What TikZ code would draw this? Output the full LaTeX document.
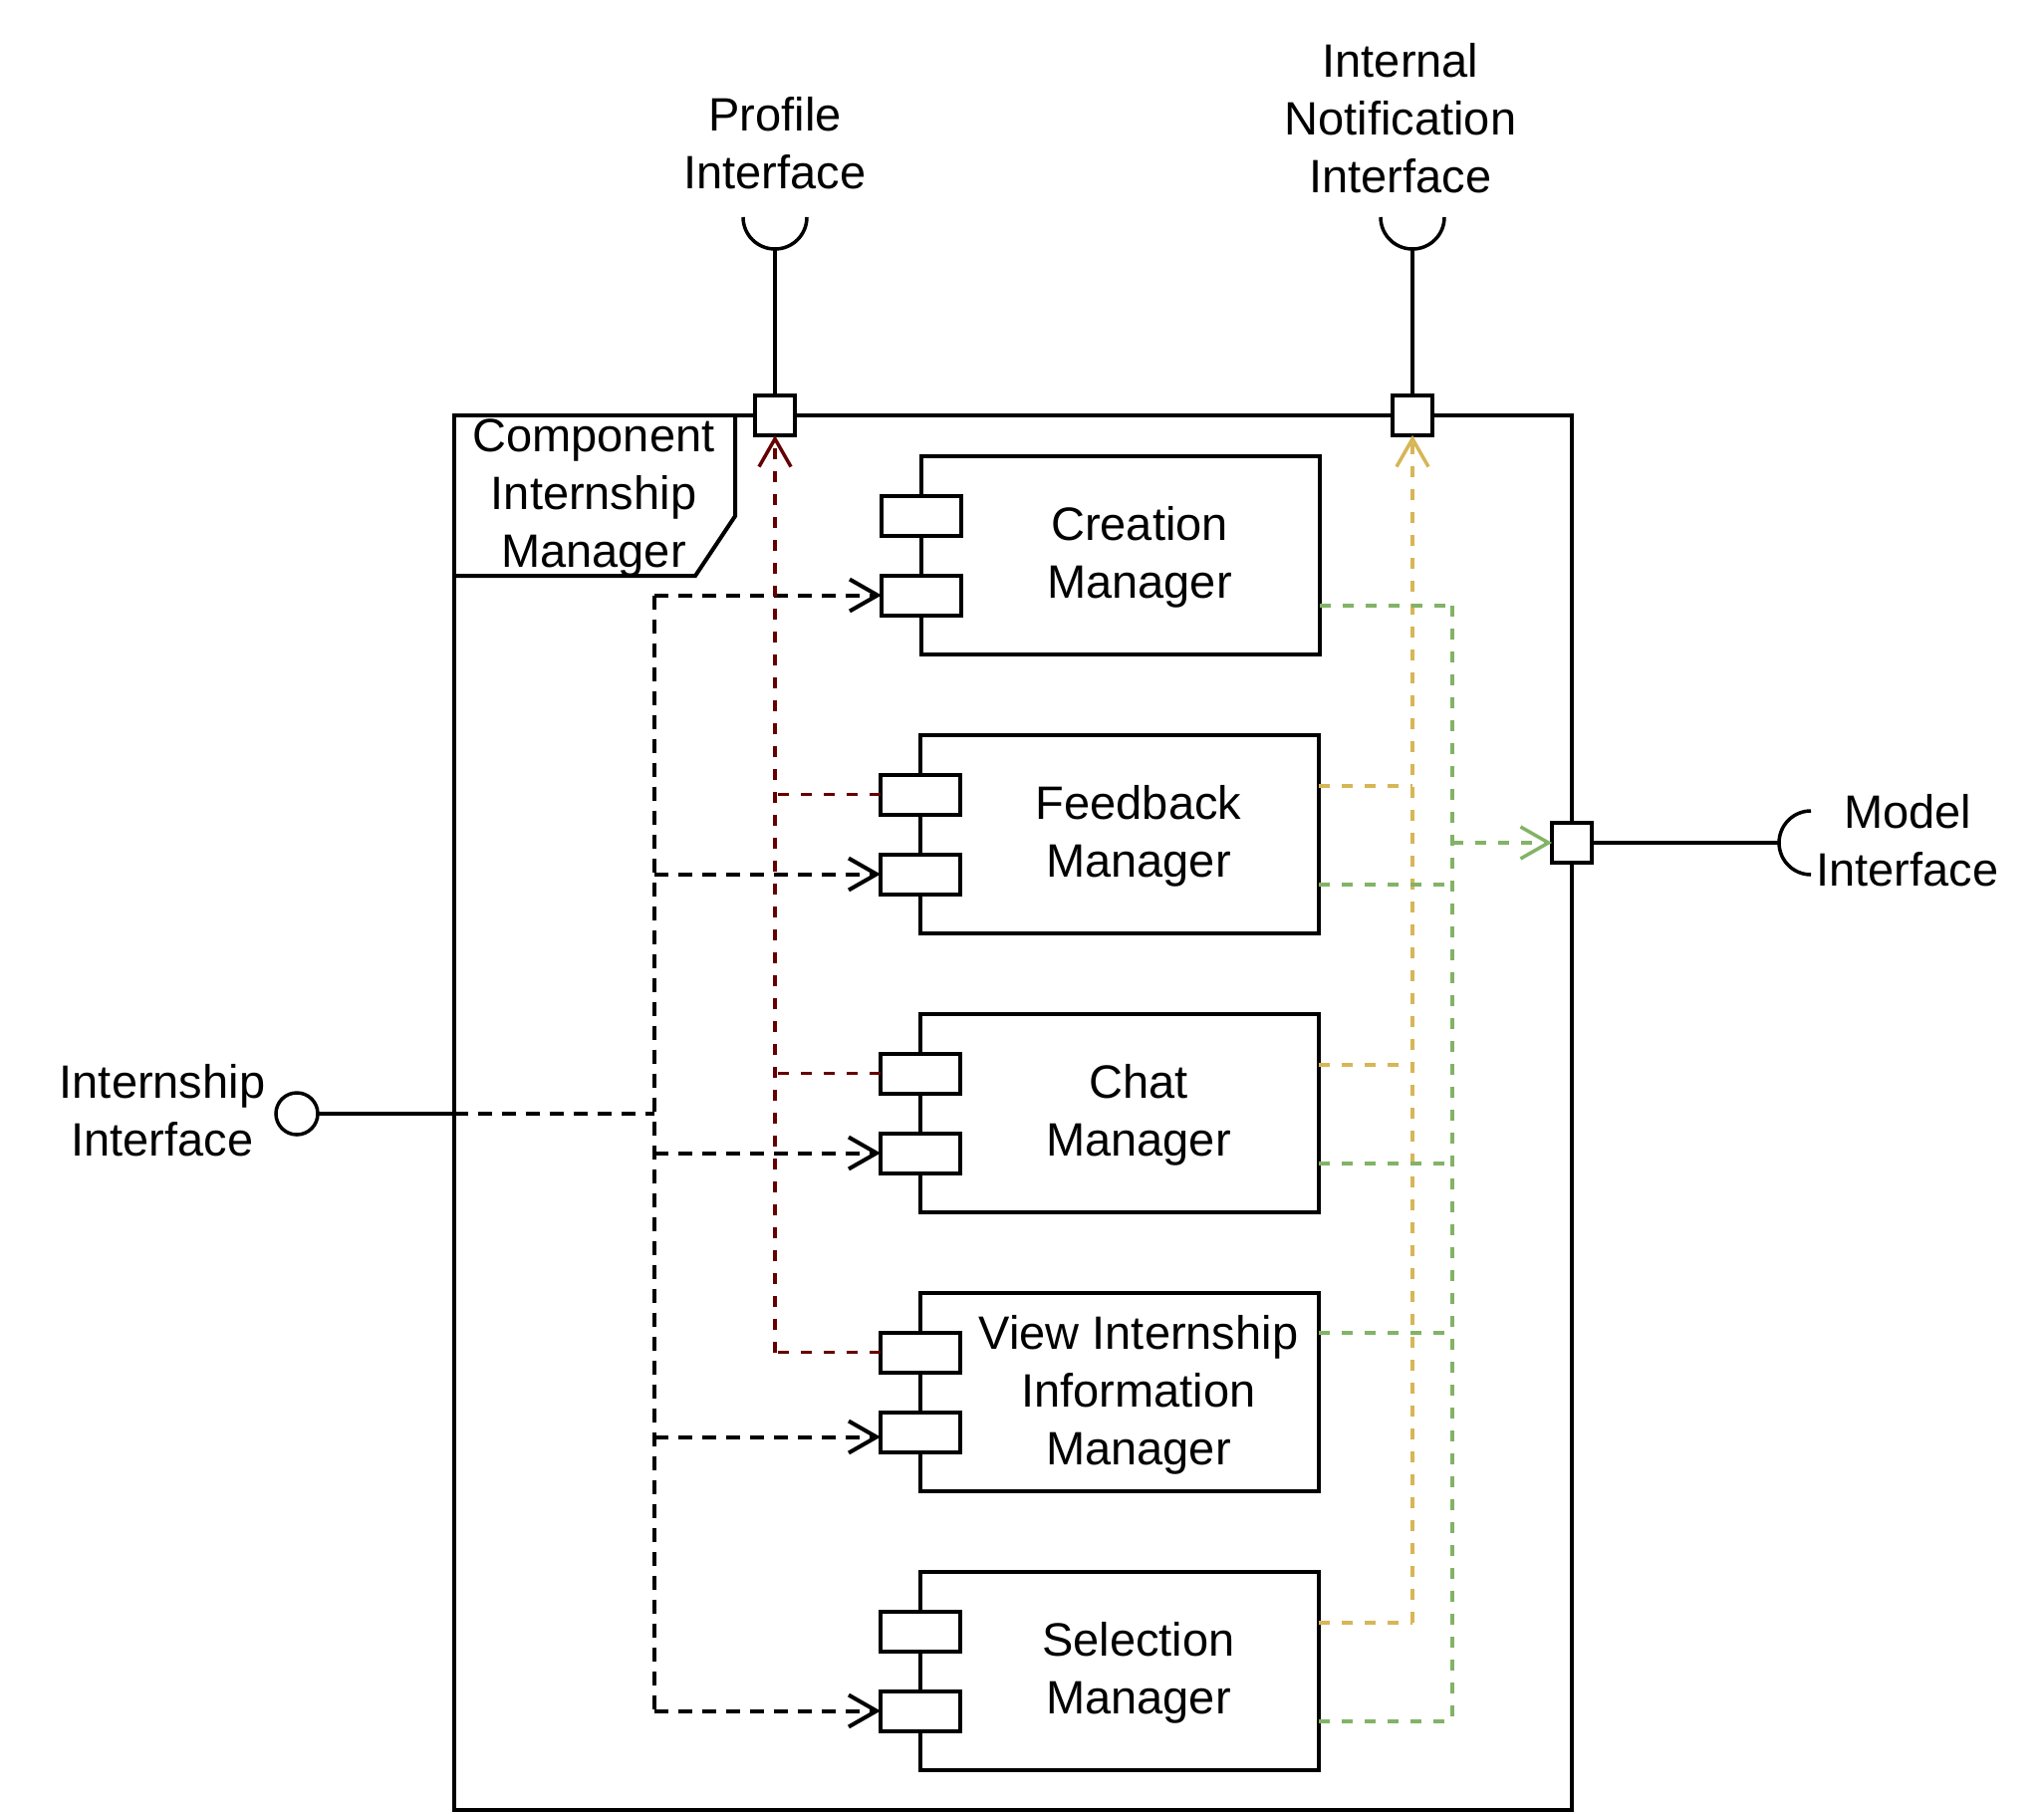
\documentclass[tikz,border=0pt]{standalone}
\usepackage{fontspec}
\setmainfont{Liberation Sans}
\usetikzlibrary{arrows.meta,positioning}
\definecolor{profred}{HTML}{660000}
\definecolor{notifyellow}{HTML}{D6B656}
\definecolor{modelgreen}{HTML}{82B366}

\begin{document}
\begin{tikzpicture}[x=1pt,y=-1pt,font=\fontsize{47}{58}\selectfont]
\useasboundingbox (0,0) rectangle (2052,1820);
\begin{scope}
\tikzstyle{comp}=[draw,fill=white,rectangle,minimum width=400pt,minimum height=199pt,line width=4pt,outer sep=0pt,node distance=81pt]
\tikzstyle{tag}=[draw,fill=white,rectangle,minimum width=80pt,minimum height=40pt,line width=4pt,outer sep=0pt]
\tikzstyle{port}=[draw,fill=white,rectangle,minimum size=40pt,line width=4pt,outer sep=0pt]
\tikzstyle{txt}=[align=center,inner sep=0pt]
\tikzstyle{wire}=[line width=3.5pt]
\tikzstyle{calls}=[line width=4pt,dash pattern=on 14pt off 10pt]
\tikzstyle{profile}=[profred,line width=3.5pt,dash pattern=on 11pt off 12pt]
\tikzstyle{notify}=[notifyellow,line width=3.5pt,dash pattern=on 11pt off 12pt]
\tikzstyle{model}=[modelgreen,line width=3.5pt,dash pattern=on 11pt off 12pt]
\tikzstyle{opentip}=[-{Straight Barb[length=28pt,width=32pt]}]

% outer component with its name tab
\node[comp,minimum width=1122pt,minimum height=1400pt] (cim) at (1017,1117) {};
\draw[line width=4pt] ([xshift=282pt]cim.north west) -- ++(0,101) -- ++(-40,60) -- ([yshift=-161pt]cim.north west);
\node[txt] (cimt) at ([xshift=140pt,yshift=-83pt]cim.north west) {Component\\Internship\\Manager};

% inner components
\node[comp] (cm) at (1125,557.5) {};
\node[comp] (fm) [below=of cm,xshift=-1pt] {};
\node[comp] (chm) [below=of fm] {};
\node[comp] (vm) [below=of chm] {};
\node[comp] (sm) [below=of vm] {};
\node[txt] (cmt) at ([xshift=19pt,yshift=-2pt]cm.center) {Creation\\Manager};
\node[txt] (fmt) at ([xshift=19pt,yshift=-2pt]fm.center) {Feedback\\Manager};
\node[txt] (chmt) at ([xshift=19pt,yshift=-2pt]chm.center) {Chat\\Manager};
\node[txt] (vmt) at ([xshift=19pt,yshift=-3pt]vm.center) {View Internship\\Information\\Manager};
\node[txt] (smt) at ([xshift=19pt,yshift=-2pt]sm.center) {Selection\\Manager};

\node[tag] (cmu) at ([yshift=40pt]cm.west) {};
\node[tag] (cml) at ([yshift=-40pt]cm.west) {};
\node[tag] (fmu) at ([yshift=40pt]fm.west) {};
\node[tag] (fml) at ([yshift=-40pt]fm.west) {};
\node[tag] (chu) at ([yshift=40pt]chm.west) {};
\node[tag] (chl) at ([yshift=-40pt]chm.west) {};
\node[tag] (vmu) at ([yshift=40pt]vm.west) {};
\node[tag] (vml) at ([yshift=-40pt]vm.west) {};
\node[tag] (smu) at ([yshift=40pt]sm.west) {};
\node[tag] (sml) at ([yshift=-40pt]sm.west) {};

% provided interface
\node[draw,circle,line width=3.5pt,minimum size=42pt,inner sep=0pt,outer sep=0pt] (ii) at (298,1118) {};
\node[txt] (il) at (163,1115) {Internship\\Interface};
\coordinate (bus) at (657,1118);
\coordinate (vin) at ([yshift=-5pt]vml.west);
\draw[wire] (ii.east) -- (ii.east -| cim.west);
\draw[calls] (ii.east -| cim.west) -- (bus);
\draw[calls] (cml.west -| bus) -- (sml.west -| bus);
\draw[calls,opentip] (cml.west -| bus) -- (cml.west);
\draw[calls,opentip] (fml.west -| bus) -- (fml.west);
\draw[calls,opentip] (chl.west -| bus) -- (chl.west);
\draw[calls,opentip] (vin -| bus) -- (vin);
\draw[calls,opentip] (sml.west -| bus) -- (sml.west);

% ports
\node[port] (pp) at (778,417) {};
\node[port] (np) at (1418,417) {};
\node[port] (mp) at (1578,846) {};

% required interfaces
\coordinate (pcup) at (778,250);
\draw[wire] (pp.north) -- (pcup);
\draw[wire] ([xshift=-32pt,yshift=32pt]pcup) arc[start angle=180,end angle=360,radius=32pt];
\node[txt] (pl) at (778,144) {Profile\\Interface};

\coordinate (ncup) at (1418,250);
\draw[wire] (np.north) -- (ncup);
\draw[wire] ([xshift=-32pt,yshift=32pt]ncup) arc[start angle=180,end angle=360,radius=32pt];
\node[txt] (nl) at (1406,119) {Internal\\Notification\\Interface};

\coordinate (mcup) at (1786,846);
\draw[wire] (mp.east) -- (mcup);
\draw[wire] ([xshift=32pt,yshift=32pt]mcup) arc[start angle=90,end angle=270,radius=32pt];
\node[txt] (ml) at (1915,844) {Model\\Interface};

% profile
\draw[profile,opentip] (vmu.west -| pp) -- (pp.south);
\draw[profile] (fmu.west) -- (fmu.west -| pp);
\draw[profile] (chu.west) -- (chu.west -| pp);
\draw[profile] (vmu.west) -- (vmu.west -| pp);

% internal notification
\coordinate (fy) at ([yshift=48.5pt]fm.east);
\coordinate (chy) at ([yshift=48.5pt]chm.east);
\coordinate (sy) at ([yshift=48.5pt]sm.east);
\draw[notify,opentip] (sy -| np) -- (np.south);
\draw[notify] (fy) -- (fy -| np);
\draw[notify] (chy) -- (chy -| np);
\draw[notify] (sy) -- (sy -| np);

% model
\coordinate (gbus) at (1458,846);
\coordinate (cg) at ([yshift=-50.5pt]cm.east);
\coordinate (fg) at ([yshift=-50.5pt]fm.east);
\coordinate (chg) at ([yshift=-50.5pt]chm.east);
\coordinate (vg) at ([yshift=59.5pt]vm.east);
\coordinate (sg) at ([yshift=-50.5pt]sm.east);
\draw[model] (cg -| gbus) -- (sg -| gbus);
\draw[model] (cg) -- (cg -| gbus);
\draw[model] (fg) -- (fg -| gbus);
\draw[model] (chg) -- (chg -| gbus);
\draw[model] (vg) -- (vg -| gbus);
\draw[model] (sg) -- (sg -| gbus);
\draw[model,opentip] (gbus) -- (mp.west);
\end{scope}
\end{tikzpicture}
\end{document}
